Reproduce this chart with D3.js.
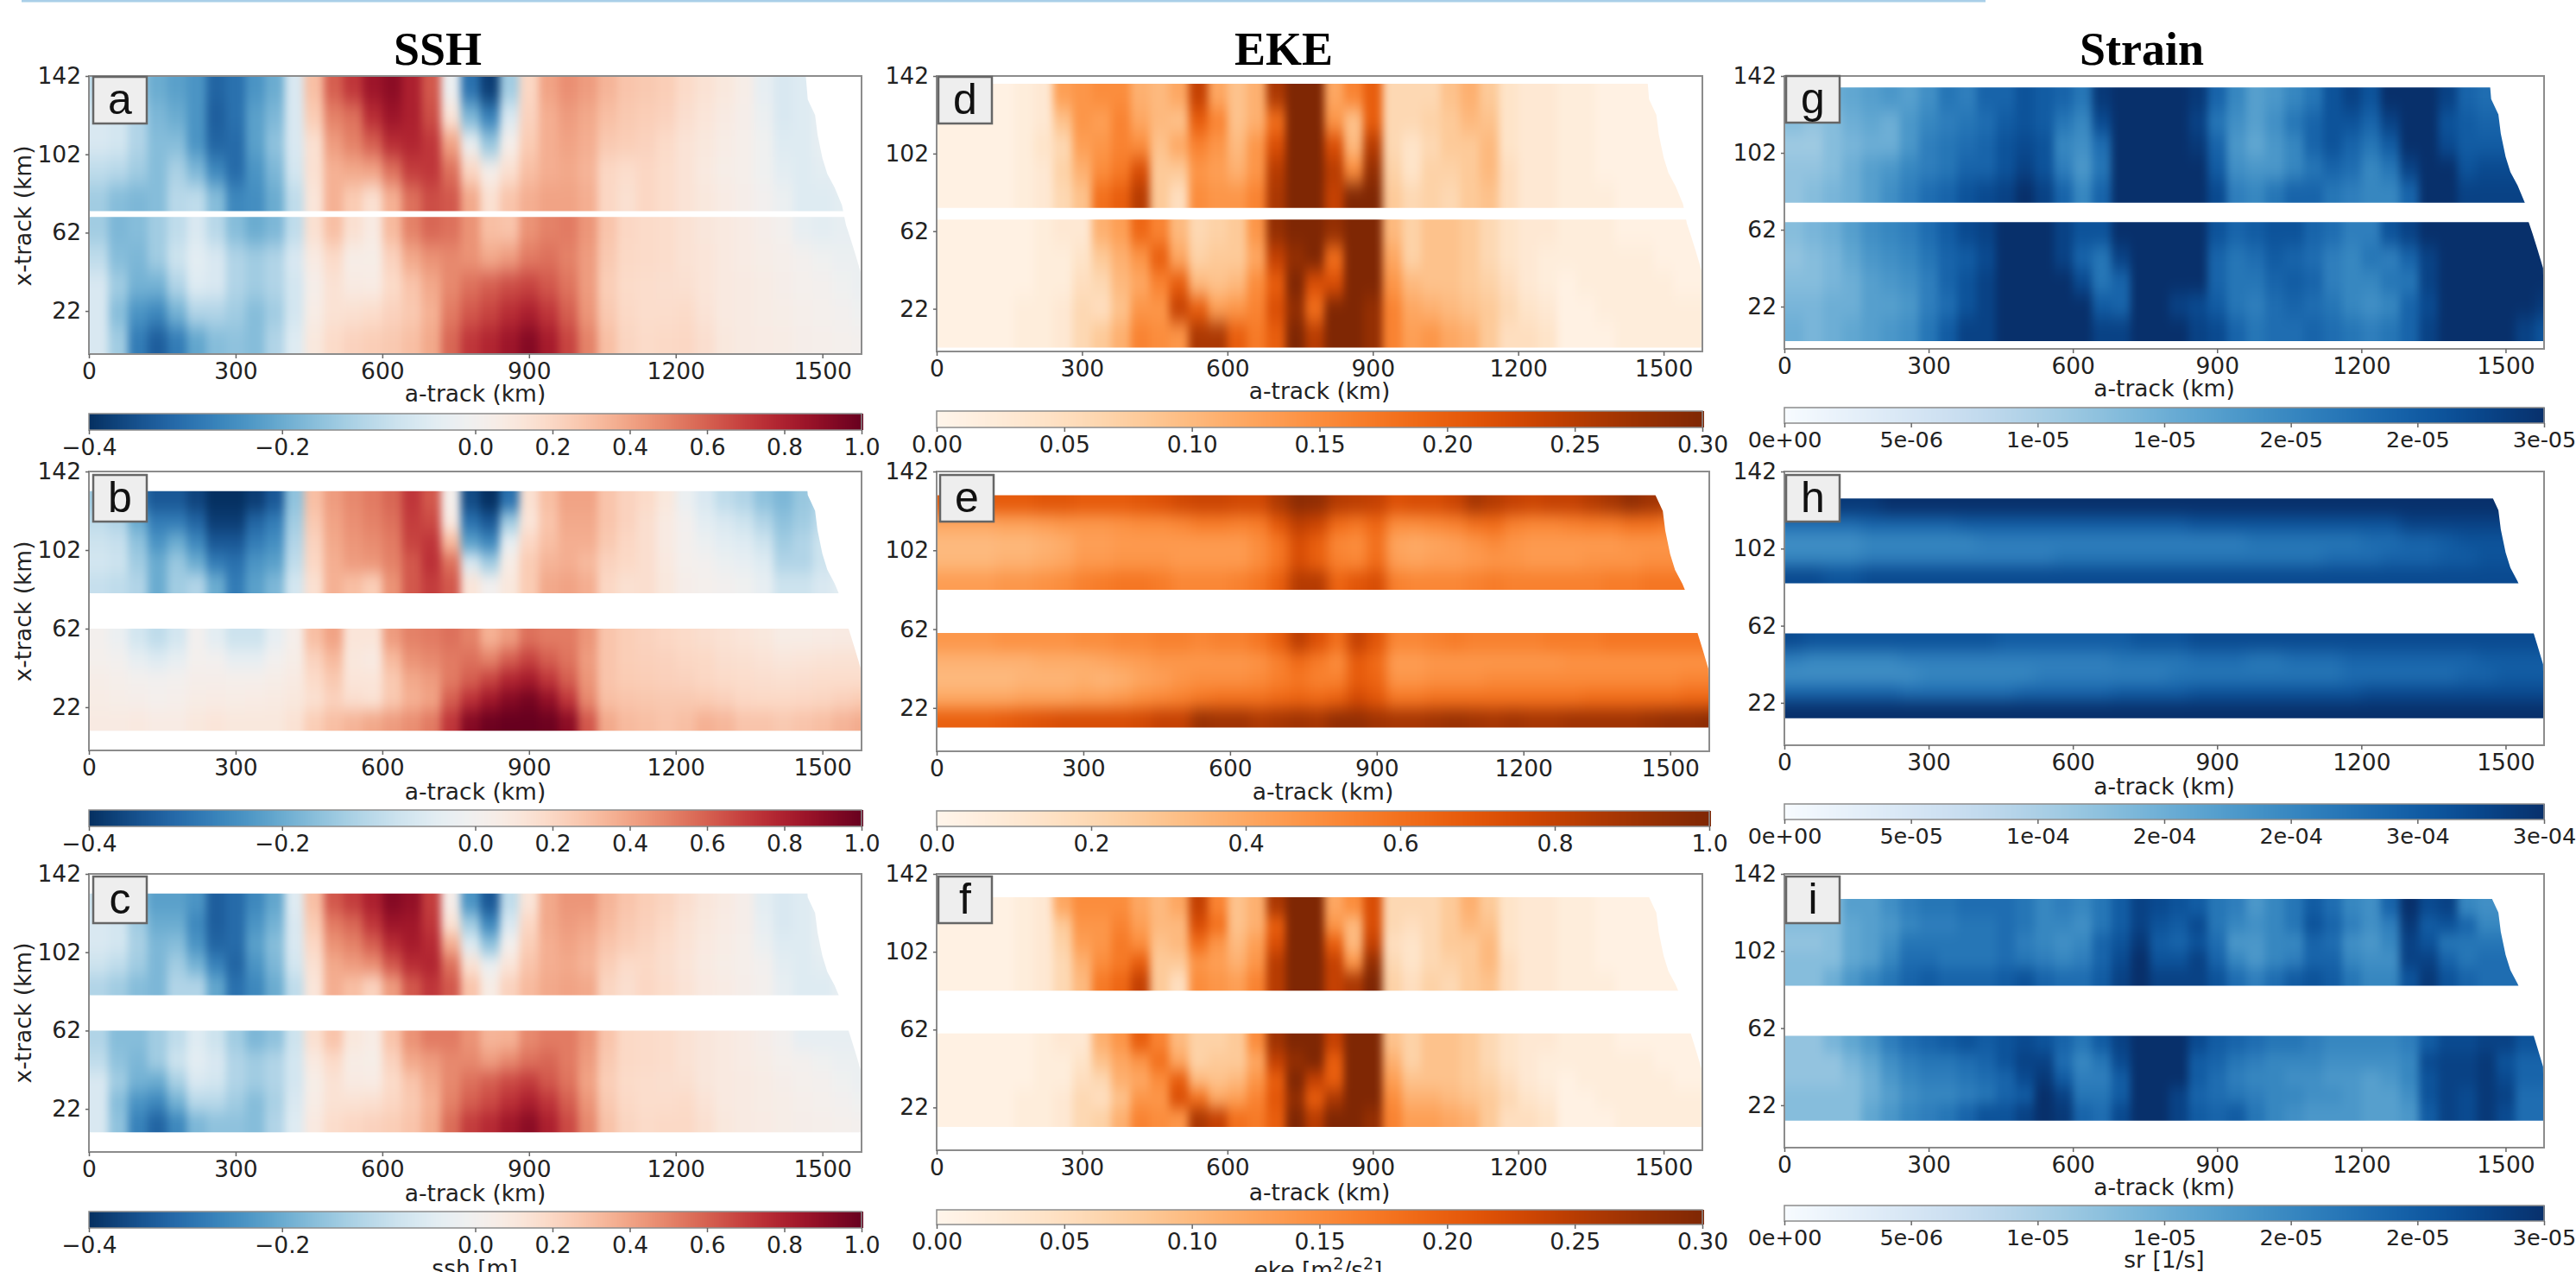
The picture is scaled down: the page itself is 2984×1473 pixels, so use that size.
<!DOCTYPE html>
<html>
<head>
<meta charset="utf-8">
<script src="https://cdn.jsdelivr.net/npm/d3@7"></script>
<style>
  html, body { margin: 0; padding: 0; background: #fff; overflow: hidden; }
  svg { display: block; }
</style>
</head>
<body>
<div id="chart"></div>
<script>
// along-track column centres (km), each column is 40 km wide
const colKm = [20,60,100,140,180,220,260,300,340,380,420,460,500,540,580,620,660,700,740,780,820,860,900,940,980,1020,1060,1100,1140,1180,1220,1260,1300,1340,1380,1420,1460,1500,1540,1580];

// right hand end of the swath: x-track km and a-track km
const edgeXtrack = [142,130,122,112,100,92,85,76,66,60,52,42,0];
const edgeAtrack = [1466,1470,1485,1490,1500,1510,1525,1540,1548,1556,1566,1578,1580];

const xTicks = [0,300,600,900,1200,1500];
const yTicks = [22,62,102,142];

// SSH in cm. Five rows per strip, top strip first
const sshA = [
  [-10,-11,-15,-20,-22,-24,-32,-30,-24,-20,-6,30,60,72,85,90,80,62,-2,-30,-38,-14,20,40,46,42,34,28,26,24,18,14,10,5,-3,-6,-5,-3,-3,-3],
  [-6,-7,-12,-18,-20,-24,-33,-30,-22,-18,-6,25,50,55,75,85,80,65,12,-18,-27,-6,22,36,42,38,30,26,24,22,16,12,8,4,-2,-6,-5,-3,-3,-3],
  [-6,-7,-12,-17,-17,-24,-32,-31,-22,-16,-6,15,42,50,60,75,78,72,40,-2,-15,3,25,36,40,36,26,24,22,18,13,10,6,3,-1,-5,-5,-3,-3,-3],
  [-10,-11,-14,-17,-13,-18,-26,-31,-24,-18,-7,15,35,38,40,55,70,72,55,20,3,15,30,36,38,34,20,17,20,17,13,9,5,3,-1,-4,-5,-4,-3,-3],
  [-14,-17,-18,-17,-11,-10,-17,-26,-25,-20,-10,12,35,25,15,35,55,65,62,38,15,28,36,40,40,36,20,15,20,17,13,10,7,4,0,-2,-5,-5,-4,-3],
  [-14,-18,-17,-14,-10,-6,-11,-17,-20,-18,-10,15,30,15,8,32,50,58,55,45,30,28,45,50,52,44,28,20,18,17,14,11,9,7,4,1,-3,-4,-3,-3],
  [-10,-17,-18,-14,-8,-4,-6,-12,-14,-12,-6,8,18,5,5,22,38,45,48,45,38,42,52,55,50,42,26,19,18,17,14,12,9,7,5,3,1,-1,-2,-2],
  [-6,-14,-19,-19,-12,-5,-6,-12,-14,-12,-7,4,14,8,7,18,28,38,48,55,60,65,68,62,54,42,24,18,17,16,15,12,9,8,6,4,2,1,-1,-2],
  [-6,-17,-24,-26,-19,-12,-12,-14,-17,-14,-7,6,14,15,17,22,26,35,52,62,68,75,80,72,60,44,26,19,17,17,18,13,9,8,6,5,3,2,0,-1],
  [-6,-14,-28,-33,-28,-21,-17,-16,-17,-12,-5,10,18,22,24,26,30,38,58,72,78,85,92,82,68,50,30,21,18,19,20,16,10,8,7,6,4,3,2,1]
];
const sshB = [
  [-14,-16,-28,-34,-34,-37,-40,-40,-38,-34,-16,30,42,48,52,58,72,62,2,-36,-40,-30,15,30,40,40,28,22,18,10,-2,-6,-10,-12,-16,-18,-15,-12,-10,-10],
  [-10,-12,-20,-28,-28,-32,-38,-38,-32,-28,-14,26,40,46,50,55,70,66,8,-30,-34,-14,12,28,38,38,28,22,16,8,0,-4,-6,-8,-12,-16,-14,-10,-8,-8],
  [-8,-9,-16,-24,-20,-26,-34,-34,-28,-25,-12,22,38,44,47,52,68,72,32,-22,-26,-3,20,30,36,36,26,20,16,8,1,-2,-4,-5,-8,-14,-12,-8,-6,-6],
  [-7,-8,-14,-20,-15,-20,-28,-30,-24,-22,-10,20,36,42,44,50,62,74,55,-6,-14,6,25,34,36,32,22,19,16,9,2,0,-2,-3,-5,-12,-12,-8,-5,-5],
  [-9,-10,-12,-20,-14,-12,-20,-28,-22,-18,-7,15,35,30,24,45,62,70,62,12,0,10,25,38,40,36,20,15,16,10,4,2,0,-1,-3,-8,-8,-6,-4,-4],
  [1,-2,-7,-10,-7,0,-4,-8,-8,-3,3,30,40,12,12,42,50,52,55,50,35,42,55,52,52,44,28,24,22,20,18,16,14,12,10,6,6,7,8,8],
  [2,0,-3,-5,-3,1,0,-3,-3,0,5,22,32,10,8,32,45,48,52,55,50,60,68,60,54,42,28,24,23,22,20,19,16,15,13,11,12,13,14,14],
  [5,3,1,0,1,4,4,3,3,5,8,18,26,12,12,26,38,42,52,60,68,78,82,72,60,44,28,25,24,23,22,20,18,17,16,15,16,17,17,17],
  [6,5,4,2,3,6,7,6,7,8,10,15,22,16,14,26,35,40,60,74,84,92,96,88,72,48,30,28,27,26,26,25,23,20,19,19,20,21,23,25],
  [8,8,9,7,7,10,12,10,10,10,14,24,30,34,38,42,46,52,72,92,98,100,100,98,90,62,38,32,30,28,30,35,33,28,28,26,28,30,34,37]
];
const sshC = [
  [-8,-10,-17,-22,-22,-24,-33,-31,-26,-21,-5,30,62,70,80,92,88,70,4,-24,-34,-10,12,38,44,44,34,28,24,21,16,11,8,4,-4,-6,-5,-3,-3,-3],
  [-6,-7,-14,-20,-20,-26,-33,-31,-24,-19,-6,25,52,58,72,85,84,72,14,-14,-26,-6,20,38,42,40,32,26,23,19,14,10,7,4,-3,-6,-5,-3,-3,-3],
  [-6,-7,-13,-18,-17,-24,-32,-31,-22,-17,-6,20,45,50,60,75,82,76,36,-5,-16,1,24,36,40,36,28,24,21,17,13,9,6,3,-2,-5,-5,-3,-3,-3],
  [-8,-10,-14,-18,-14,-19,-27,-32,-24,-18,-7,15,38,42,46,62,75,78,55,14,-2,12,28,36,38,34,24,18,19,16,12,8,5,3,0,-4,-5,-4,-3,-3],
  [-12,-14,-17,-18,-12,-12,-21,-30,-26,-20,-10,12,36,30,22,42,62,72,62,28,6,22,32,38,40,38,21,16,20,17,13,9,7,4,1,-3,-5,-5,-3,-3],
  [-12,-17,-17,-14,-10,-5,-8,-14,-18,-16,-8,15,28,10,6,28,45,52,52,45,34,35,48,52,52,44,28,19,18,17,14,11,9,7,4,0,-3,-3,-3,-3],
  [-10,-16,-18,-14,-8,-4,-6,-12,-14,-12,-7,9,18,6,5,22,38,42,48,48,42,48,55,58,52,42,26,19,18,17,14,11,9,7,5,2,1,-1,-2,-2],
  [-6,-14,-19,-20,-13,-6,-7,-12,-14,-12,-7,5,14,8,7,18,28,38,48,55,60,66,70,62,54,40,24,18,17,16,15,11,9,8,6,4,2,1,-1,-2],
  [-6,-17,-24,-26,-19,-11,-11,-14,-17,-13,-6,6,14,14,15,20,26,35,50,60,66,74,80,72,60,44,26,19,17,17,18,13,9,8,6,5,3,2,0,-1],
  [-6,-16,-27,-32,-26,-18,-16,-16,-17,-12,-5,9,17,20,22,24,28,37,56,70,76,84,90,80,66,48,29,21,18,19,19,15,10,8,7,5,4,3,2,1]
];

// EKE in 0.01 m2/s2
const ekeD = [
  [1,1,1,1,2,3,13,14,15,15,11,10,12,24,12,9,11,26,30,30,12,16,20,6,6,6,9,11,8,4,3,3,2,2,1,1,1,1,1,1],
  [1,1,1,1,2,3,9,14,13,16,12,10,9,20,16,9,11,18,30,30,14,9,20,6,6,7,8,10,9,4,3,3,2,2,1,1,1,1,1,1],
  [1,1,1,1,2,4,6,13,14,16,15,9,12,16,14,10,14,22,30,30,22,10,25,6,4,6,8,8,10,4,3,3,2,2,1,1,1,1,1,1],
  [1,1,1,1,2,3,7,11,15,17,22,8,8,14,13,11,14,25,30,30,25,15,28,7,4,7,7,8,10,5,3,3,2,2,1,1,1,1,1,1],
  [1,1,1,1,2,3,6,9,18,20,25,8,5,15,14,14,16,26,30,30,24,30,30,8,6,7,6,8,9,5,3,3,2,2,2,1,1,1,1,1],
  [1,1,1,1,1,2,3,3,11,13,19,16,10,6,7,8,14,28,30,30,28,30,30,10,7,9,9,8,6,4,3,3,2,2,2,1,1,1,1,1],
  [1,1,1,1,1,2,2,4,8,11,14,20,12,7,8,8,12,24,28,30,18,30,30,12,7,9,9,8,6,4,3,2,2,2,2,2,2,1,1,1],
  [1,1,1,1,1,2,2,5,6,10,12,16,20,10,9,10,15,20,30,22,22,30,30,14,10,9,9,8,7,5,3,2,1,2,2,2,2,2,1,1],
  [1,1,1,1,2,2,3,6,5,9,14,14,24,20,13,14,16,22,28,18,30,30,28,16,12,11,10,9,8,6,4,3,1,1,2,2,2,2,2,2],
  [1,1,1,1,2,2,3,6,8,11,16,15,14,26,26,20,17,20,30,25,30,30,28,16,13,14,12,11,8,5,5,4,1,1,1,2,2,2,2,2]
];
const ekeE = [
  [66,66,68,68,68,70,70,68,68,68,70,72,76,78,78,76,76,86,96,94,84,82,80,72,74,74,78,88,84,80,78,80,80,84,88,94,90,86,84,84],
  [40,40,40,42,42,44,46,46,46,48,50,50,52,56,56,54,56,70,82,78,62,58,64,50,50,52,54,60,62,54,52,52,54,56,56,60,60,56,54,54],
  [33,33,33,34,34,36,38,43,43,45,45,45,45,45,45,45,50,58,74,66,52,50,60,41,39,41,43,47,51,47,45,45,45,45,45,47,47,47,47,47],
  [34,34,34,36,36,38,40,45,45,47,47,47,45,45,45,45,50,58,74,66,54,52,62,43,41,43,43,45,47,47,45,45,45,47,47,47,49,49,49,49],
  [44,44,44,46,46,48,50,54,56,58,58,56,52,52,52,54,58,66,84,84,64,70,74,54,52,52,52,54,56,54,54,54,54,54,56,56,58,58,58,58],
  [46,46,46,48,48,48,48,50,50,52,52,54,54,52,54,54,58,66,82,72,60,80,70,52,52,54,56,54,54,54,54,56,56,56,58,58,58,58,58,58],
  [36,36,36,36,36,38,38,38,40,42,44,46,46,46,46,46,48,54,62,56,50,68,62,44,44,46,46,46,46,46,46,46,48,48,48,48,48,48,48,48],
  [33,33,33,33,35,35,35,37,35,37,41,43,47,49,49,49,51,55,58,54,54,68,64,47,47,49,49,49,51,51,51,51,51,51,51,51,51,51,53,53],
  [40,40,40,40,42,42,42,44,44,46,50,52,54,58,60,60,60,63,65,63,66,76,70,58,58,60,60,60,60,60,60,60,60,62,62,62,62,62,64,64],
  [66,66,66,68,70,72,74,74,74,74,76,80,80,92,90,90,86,88,90,88,94,94,90,88,88,90,92,90,88,90,88,88,90,90,90,90,92,94,94,96]
];
const ekeF = [
  [1,1,1,1,2,3,12,15,15,15,12,10,12,24,16,9,11,26,30,30,12,15,22,6,6,6,8,11,8,4,3,3,2,2,1,1,1,1,1,1],
  [1,1,1,1,2,3,8,14,14,16,13,10,10,22,18,9,11,20,30,30,14,10,22,6,5,6,8,10,9,4,3,3,2,2,1,1,1,1,1,1],
  [1,1,1,1,2,3,7,13,14,17,15,9,10,18,14,10,13,22,30,30,20,10,24,5,4,6,8,8,10,4,3,3,2,2,1,1,1,1,1,1],
  [1,1,1,1,2,3,6,11,15,17,20,8,8,14,13,11,14,25,30,30,24,14,28,6,4,6,7,8,10,5,3,3,2,2,1,1,1,1,1,1],
  [1,1,1,1,2,3,6,10,17,19,24,8,5,15,14,13,16,25,30,30,24,26,30,7,5,7,6,8,9,5,3,3,2,2,2,1,1,1,1,1],
  [1,1,1,1,1,2,3,3,11,14,20,16,10,7,7,8,15,27,30,30,24,30,30,9,7,9,9,8,6,4,3,3,2,2,2,1,1,1,1,1],
  [1,1,1,1,1,2,2,4,9,12,14,18,12,7,8,8,12,24,28,30,20,30,30,11,7,9,9,8,6,4,3,2,2,2,2,2,2,1,1,1],
  [1,1,1,1,1,2,2,5,6,11,12,15,20,10,9,10,14,20,30,24,20,30,30,13,9,9,9,8,7,5,3,2,1,2,2,2,2,2,1,1],
  [1,1,1,1,2,2,3,6,5,9,14,14,22,18,12,13,16,21,28,20,26,30,30,15,11,11,10,9,8,6,4,3,1,1,2,2,2,2,2,2],
  [1,1,1,1,2,2,3,6,7,11,16,15,14,26,24,18,17,20,30,25,30,30,28,16,13,13,12,11,8,5,5,4,1,1,1,2,2,2,2,2]
];

// strain: g and i in 1e-6 1/s, h in 1e-5 1/s
const strainG = [
  [15,15,15,16,17,18,17,19,22,21,24,24,26,25,24,22,29,30,30,30,30,29,24,20,17,18,20,22,26,28,26,30,30,30,28,24,23,23,23,23],
  [13,12,13,15,16,15,18,20,21,22,23,25,26,25,22,20,27,30,30,30,30,28,22,19,17,19,22,24,26,26,24,28,30,30,26,25,24,24,24,24],
  [11,11,13,14,15,15,18,21,22,23,24,26,27,26,20,19,23,30,30,30,30,29,24,18,16,18,20,24,26,24,22,25,30,30,27,25,25,25,25,25],
  [12,12,13,15,17,18,20,21,22,24,24,26,28,26,21,18,22,30,30,30,30,30,25,19,18,18,20,22,24,23,20,22,28,30,30,26,27,27,27,27],
  [12,13,14,15,17,19,21,23,24,26,27,28,30,28,24,20,24,30,30,30,30,30,27,21,20,22,24,24,22,21,20,20,24,30,30,28,28,28,28,28],
  [13,14,15,17,19,20,21,23,25,27,28,30,30,30,28,26,26,30,30,30,30,30,26,24,25,26,26,24,23,21,21,26,28,30,30,30,30,30,30,30],
  [12,13,14,16,18,19,20,22,24,25,27,30,30,30,28,24,22,28,30,30,30,30,24,22,23,25,24,23,21,20,22,21,24,28,30,30,30,30,30,30],
  [13,13,14,15,17,18,19,21,24,26,28,30,30,30,30,27,22,24,30,30,30,30,24,22,22,24,25,24,21,20,20,22,22,28,30,30,30,30,30,30],
  [14,14,15,15,17,17,18,21,23,26,28,30,30,30,30,30,25,24,30,30,28,27,25,22,21,23,24,23,22,20,19,20,24,27,30,30,30,30,30,29],
  [15,14,15,16,17,18,19,22,25,28,28,30,30,30,30,30,28,28,30,30,30,28,27,24,22,23,23,24,23,22,21,22,24,28,30,30,30,30,28,26]
];
const strainH = [
  [28,28,29,29,29,30,30,30,30,30,30,30,30,30,30,30,30,30,30,30,30,30,30,30,30,30,30,30,30,30,30,30,30,30,30,30,30,30,30,30],
  [23,23,23,23,24,24,24,24,24,25,25,25,25,25,25,25,25,25,25,25,25,26,26,26,26,26,26,26,26,26,26,26,28,28,28,28,28,28,28,28],
  [19,19,19,19,20,20,20,20,20,20,21,21,21,21,21,21,21,21,21,21,21,21,21,21,22,22,22,22,22,22,23,23,24,24,25,26,26,26,26,26],
  [20,20,20,20,21,21,21,21,21,21,21,21,21,21,22,22,22,22,22,22,22,22,22,22,22,22,22,22,23,23,23,24,24,24,25,25,26,26,26,26],
  [27,27,26,26,27,27,27,27,27,27,27,27,27,27,27,27,27,27,27,27,27,27,27,27,27,27,27,27,27,27,27,27,27,27,27,27,27,27,27,27],
  [27,26,26,26,26,26,26,26,26,26,26,25,25,25,25,25,25,25,26,26,26,27,27,27,27,27,27,27,27,27,27,27,27,27,27,27,27,27,27,27],
  [21,20,20,20,20,20,21,21,21,21,21,21,21,21,21,21,21,22,22,22,22,23,23,23,22,22,23,23,23,24,24,24,24,24,24,24,25,25,25,25],
  [19,19,19,19,19,19,19,20,20,20,20,20,20,21,21,21,21,21,21,21,22,22,22,22,22,22,22,22,22,23,23,23,23,23,23,24,24,25,25,25],
  [24,24,24,24,24,24,23,23,23,23,23,23,24,24,24,24,24,25,25,25,25,26,26,26,26,26,26,26,26,26,27,27,27,27,27,27,27,27,27,27],
  [30,30,30,30,30,30,30,30,30,30,30,30,30,30,30,30,30,30,30,30,30,30,30,30,30,30,30,30,30,30,30,30,30,30,30,30,30,30,30,30]
];
const strainI = [
  [13,13,13,17,17,19,21,22,22,23,23,23,22,20,21,20,22,25,28,27,26,25,22,21,18,20,22,25,23,20,19,24,30,27,28,20,19,19,19,19],
  [13,13,13,16,17,18,20,21,21,22,22,23,22,20,20,19,22,25,28,26,25,27,22,20,19,20,22,26,24,21,19,21,29,25,26,24,20,20,20,20],
  [12,12,13,16,17,19,22,22,22,22,22,23,21,20,19,20,24,26,29,25,24,26,23,18,18,20,20,24,23,19,18,20,28,26,22,22,22,22,22,22],
  [13,13,13,16,17,20,23,23,22,22,22,23,22,21,20,21,24,27,30,26,26,28,24,20,18,20,21,24,24,20,19,19,28,28,24,22,23,23,23,23],
  [13,13,15,18,20,22,24,25,24,24,24,25,26,24,23,23,25,28,30,28,28,28,26,23,21,23,25,26,25,22,20,20,26,29,26,24,23,23,23,23],
  [12,12,14,16,18,21,23,24,25,26,25,26,27,26,24,22,25,28,30,30,30,27,25,24,23,22,22,21,20,20,20,20,21,25,27,27,28,28,26,26],
  [12,12,12,14,16,19,21,22,22,23,24,26,28,28,23,20,22,27,30,30,30,25,24,22,21,20,20,20,19,19,19,19,20,27,28,28,29,26,24,24],
  [12,12,12,13,15,18,20,21,21,22,23,24,27,29,25,21,21,25,30,30,30,25,23,21,20,20,19,19,18,18,17,18,20,26,28,28,29,27,24,24],
  [13,13,13,13,15,17,19,20,20,21,22,24,25,30,28,22,22,25,30,30,28,24,23,22,21,20,20,19,19,18,17,17,19,26,28,27,29,28,23,23],
  [13,13,13,13,16,18,20,21,22,24,26,26,28,30,29,24,23,27,30,30,28,25,24,25,22,20,19,18,18,18,17,17,18,25,28,27,29,27,23,23]
];

// colour bar ticks
const sshBarTicks = [-0.4,-0.2,0,0.2,0.4,0.6,0.8,1];
const sshBarLabels = ["\u22120.4","\u22120.2","0.0","0.2","0.4","0.6","0.8","1.0"];
const ekeBarTicks = [0,0.05,0.1,0.15,0.2,0.25,0.3];
const ekeBarLabels = ["0.00","0.05","0.10","0.15","0.20","0.25","0.30"];
const eke1BarTicks = [0,0.2,0.4,0.6,0.8,1];
const eke1BarLabels = ["0.0","0.2","0.4","0.6","0.8","1.0"];
const srBarTicks = [0,5e-6,1e-5,1.5e-5,2e-5,2.5e-5,3e-5];
const srBarLabels = ["0e+00","5e-06","1e-05","1e-05","2e-05","2e-05","3e-05"];
const sr1BarTicks = [0,5e-5,1e-4,1.5e-4,2e-4,2.5e-4,3e-4];
const sr1BarLabels = ["0e+00","5e-05","1e-04","2e-04","2e-04","3e-04","3e-04"];

const width = 2984;
const height = 1473;
const fontFamily = "'DejaVu Sans'";
const textColor = "#222";
const spineColor = "#8c8c8c";

const sshColor = d3.scaleDiverging([-0.4, 0, 1], t => d3.interpolateRdBu(1 - t));
const ekeColor = d3.scaleSequential([0, 0.3], d3.interpolateOranges);
const eke1Color = d3.scaleSequential([0, 1], d3.interpolateOranges);
const srColor = d3.scaleSequential([0, 3e-5], d3.interpolateBlues);
const sr1Color = d3.scaleSequential([0, 3e-4], d3.interpolateBlues);

const panels = [
  {id:"a", data:sshA, unit:0.01, color:sshColor, blur:"5 11", l:103, r:998, t:88, b:410, strips:[[142,73],[70,0]], xLab:465, showY:true, yLabMid:250, bar:[479,498], barDom:[-0.4,0,1], ticks:sshBarTicks, labels:sshBarLabels, box:[108,89]},
  {id:"b", data:sshB, unit:0.01, color:sshColor, blur:"5 9", l:103, r:998, t:546, b:869, strips:[[132,80],[62,10]], xLab:926, showY:true, yLabMid:708, bar:[938,957], barDom:[-0.4,0,1], ticks:sshBarTicks, labels:sshBarLabels, box:[108,550]},
  {id:"c", data:sshC, unit:0.01, color:sshColor, blur:"5 9", l:103, r:998, t:1012, b:1334, strips:[[132,80],[62,10]], xLab:1391, showY:true, yLabMid:1173, bar:[1403,1422], barDom:[-0.4,0,1], ticks:sshBarTicks, labels:sshBarLabels, box:[108,1015]},
  {id:"d", data:ekeD, unit:0.01, color:ekeColor, blur:"5 11", l:1085, r:1972, t:88, b:407, strips:[[138,74],[68,2]], xLab:462, bar:[476,495], barDom:[0,0.3], ticks:ekeBarTicks, labels:ekeBarLabels, box:[1087,89]},
  {id:"e", data:ekeE, unit:0.01, color:eke1Color, blur:"7 9", l:1085, r:1980, t:546, b:870, strips:[[130,82],[60,12]], xLab:926, bar:[939,957], barDom:[0,1], ticks:eke1BarTicks, labels:eke1BarLabels, box:[1089,550]},
  {id:"f", data:ekeF, unit:0.01, color:ekeColor, blur:"5 9", l:1085, r:1972, t:1012, b:1332, strips:[[130,82],[60,12]], xLab:1390, bar:[1401,1418], barDom:[0,0.3], ticks:ekeBarTicks, labels:ekeBarLabels, box:[1087,1015]},
  {id:"g", data:strainG, unit:1e-6, color:srColor, blur:"5 10", l:2067, r:2947, t:88, b:404, strips:[[136,76],[66,4]], xLab:459, bar:[472,490], barDom:[0,3e-5], ticks:srBarTicks, labels:srBarLabels, box:[2069,88]},
  {id:"h", data:strainH, unit:1e-5, color:sr1Color, blur:"8 9", l:2067, r:2947, t:546, b:863, strips:[[128,84],[58,14]], xLab:920, bar:[931,949], barDom:[0,3e-4], ticks:sr1BarTicks, labels:sr1BarLabels, box:[2069,550]},
  {id:"i", data:strainI, unit:1e-6, color:srColor, blur:"5 8", l:2067, r:2947, t:1012, b:1329, strips:[[129,84],[58,14]], xLab:1384, bar:[1396,1414], barDom:[0,3e-5], ticks:srBarTicks, labels:srBarLabels, box:[2069,1015]}
];

const svg = d3.select("#chart").append("svg")
  .attr("width", width)
  .attr("height", height)
  .attr("font-family", fontFamily);
const defs = svg.append("defs");

// blue rule left over from the page above the figure
svg.append("line")
  .attr("x1", 25).attr("x2", 2300)
  .attr("y1", 1).attr("y2", 1)
  .attr("stroke", "#a9cfe8")
  .attr("stroke-width", 3);

function styleAxis(g, size) {
  g.select(".domain").remove();
  g.selectAll(".tick line").attr("stroke", "#666").attr("stroke-width", 1.5);
  g.selectAll(".tick text").attr("fill", textColor).attr("font-size", size || 26.5).attr("font-family", fontFamily);
}

function drawPanel(p) {
  const x = d3.scaleLinear().domain([0, 1580]).range([p.l, p.r]);
  const y = d3.scaleLinear().domain([0, 142]).range([p.b, p.t]);
  const g = svg.append("g").attr("id", "panel-" + p.id);

  // soften the cells, the source field is smooth
  defs.append("filter")
    .attr("id", "soft-" + p.id)
    .attr("color-interpolation-filters", "sRGB")
    .attr("x", "-5%").attr("y", "-20%").attr("width", "110%").attr("height", "140%")
    .append("feGaussianBlur")
    .attr("stdDeviation", p.blur);

  // swath outline
  const swath = [[0, 142]].concat(edgeXtrack.map((k, i) => [edgeAtrack[i], k]), [[0, 0]]);
  defs.append("clipPath").attr("id", "swath-" + p.id)
    .append("path")
    .attr("d", d3.line().x(d => x(d[0])).y(d => y(d[1])).curve(d3.curveLinear)(swath) + "Z");

  p.strips.forEach((strip, s) => {
    const rows = p.data.slice(s * 5, s * 5 + 5);
    const rowScale = d3.scaleBand().domain(d3.range(rows.length)).range([y(strip[0]), y(strip[1])]);

    defs.append("clipPath").attr("id", `strip-${p.id}-${s}`)
      .append("rect")
      .attr("x", p.l).attr("width", p.r - p.l)
      .attr("y", y(strip[0])).attr("height", y(strip[1]) - y(strip[0]));

    const cells = rows.flatMap((row, i) => row.map((v, j) => ({i, j, v})));

    g.append("g").attr("clip-path", `url(#swath-${p.id})`)
      .append("g").attr("clip-path", `url(#strip-${p.id}-${s})`)
      .append("g").attr("filter", `url(#soft-${p.id})`)
      .selectAll("rect")
      .data(cells)
      .enter()
      .append("rect")
      // outer cells run past the clip so the blur does not fade at the edges
      .attr("x", d => x(colKm[d.j] - 20) - (d.j === 0 ? 40 : 0))
      .attr("width", d => x(colKm[d.j] + 20) - x(colKm[d.j] - 20) + 1 + (d.j === 0 || d.j === colKm.length - 1 ? 40 : 0))
      .attr("y", d => rowScale(d.i) - (d.i === 0 ? 40 : 0))
      .attr("height", d => rowScale.bandwidth() + 1 + (d.i === 0 || d.i === rows.length - 1 ? 40 : 0))
      .attr("fill", d => p.color(d.v * p.unit));
  });

  // frame
  g.append("rect")
    .attr("x", p.l).attr("y", p.t)
    .attr("width", p.r - p.l).attr("height", p.b - p.t)
    .attr("fill", "none")
    .attr("stroke", spineColor)
    .attr("stroke-width", 2);

  // axes
  g.append("g")
    .attr("transform", `translate(0,${p.b})`)
    .call(d3.axisBottom(x).tickValues(xTicks).tickSize(5).tickPadding(5).tickFormat(d3.format("d")))
    .call(styleAxis);
  g.append("g")
    .attr("transform", `translate(${p.l},0)`)
    .call(d3.axisLeft(y).tickValues(yTicks).tickSize(4).tickPadding(5).tickFormat(d3.format("d")))
    .call(styleAxis);

  g.append("text")
    .attr("x", (p.l + p.r) / 2)
    .attr("y", p.xLab)
    .attr("text-anchor", "middle")
    .attr("fill", textColor)
    .attr("font-size", 26.5)
    .text("a-track (km)");

  if (p.showY) {
    g.append("text")
      .attr("transform", `translate(36,${p.yLabMid}) rotate(-90)`)
      .attr("text-anchor", "middle")
      .attr("fill", textColor)
      .attr("font-size", 26.5)
      .text("x-track (km)");
  }

  // panel letter
  g.append("rect")
    .attr("x", p.box[0]).attr("y", p.box[1])
    .attr("width", 62).attr("height", 54)
    .attr("fill", "#eeeeee")
    .attr("stroke", "#666")
    .attr("stroke-width", 2.5);
  g.append("text")
    .attr("x", p.box[0] + 31)
    .attr("y", p.box[1] + 43)
    .attr("text-anchor", "middle")
    .attr("font-family", "'Liberation Sans'")
    .attr("font-size", 50)
    .attr("fill", "#111")
    .text(p.id);

  // colour bar
  const barRange = p.barDom.length === 3 ? [p.l, (p.l + p.r) / 2, p.r] : [p.l, p.r];
  const bar = d3.scaleLinear().domain(p.barDom).range(barRange);
  const barG = g.append("g");
  barG.selectAll("rect")
    .data(d3.range(p.l, p.r, 2))
    .enter()
    .append("rect")
    .attr("x", d => d)
    .attr("y", p.bar[0])
    .attr("width", 3)
    .attr("height", p.bar[1] - p.bar[0])
    .attr("fill", d => p.color(bar.invert(d)));
  barG.append("rect")
    .attr("x", p.l).attr("y", p.bar[0])
    .attr("width", p.r - p.l).attr("height", p.bar[1] - p.bar[0])
    .attr("fill", "none")
    .attr("stroke", spineColor)
    .attr("stroke-width", 1.5);
  // strain labels are the widest, they only just fit before the page edge
  const barFont = p.labels[0] === "0e+00" ? 25.5 : 26.5;
  barG.append("g")
    .attr("transform", `translate(0,${p.bar[1]})`)
    .call(d3.axisBottom(bar).tickValues(p.ticks).tickSize(5).tickPadding(5).tickFormat((d, i) => p.labels[i]))
    .call(styleAxis, barFont);
}

panels.forEach(drawPanel);

// column titles
const titles = [["SSH", 507], ["EKE", 1487], ["Strain", 2481]];
svg.selectAll(".col-title")
  .data(titles)
  .enter()
  .append("text")
  .attr("class", "col-title")
  .attr("x", d => d[1])
  .attr("y", 75)
  .attr("text-anchor", "middle")
  .attr("font-family", "'Liberation Serif'")
  .attr("font-weight", "bold")
  .attr("font-size", 54)
  .attr("fill", "#000")
  .text(d => d[0]);

// colour bar names, the page cuts the bottom of these
svg.append("text")
  .attr("x", 550).attr("y", 1478)
  .attr("text-anchor", "middle").attr("font-size", 26.5).attr("fill", textColor)
  .text("ssh [m]");
const ekeLabel = svg.append("text")
  .attr("x", 1527).attr("y", 1480)
  .attr("text-anchor", "middle").attr("font-size", 26.5).attr("fill", textColor);
ekeLabel.append("tspan").text("eke [m");
ekeLabel.append("tspan").attr("dy", -10).attr("font-size", 19).text("2");
ekeLabel.append("tspan").attr("dy", 10).text("/s");
ekeLabel.append("tspan").attr("dy", -10).attr("font-size", 19).text("2");
ekeLabel.append("tspan").attr("dy", 10).text("]");
svg.append("text")
  .attr("x", 2507).attr("y", 1468)
  .attr("text-anchor", "middle").attr("font-size", 26.5).attr("fill", textColor)
  .text("sr [1/s]");
</script>
</body>
</html>
